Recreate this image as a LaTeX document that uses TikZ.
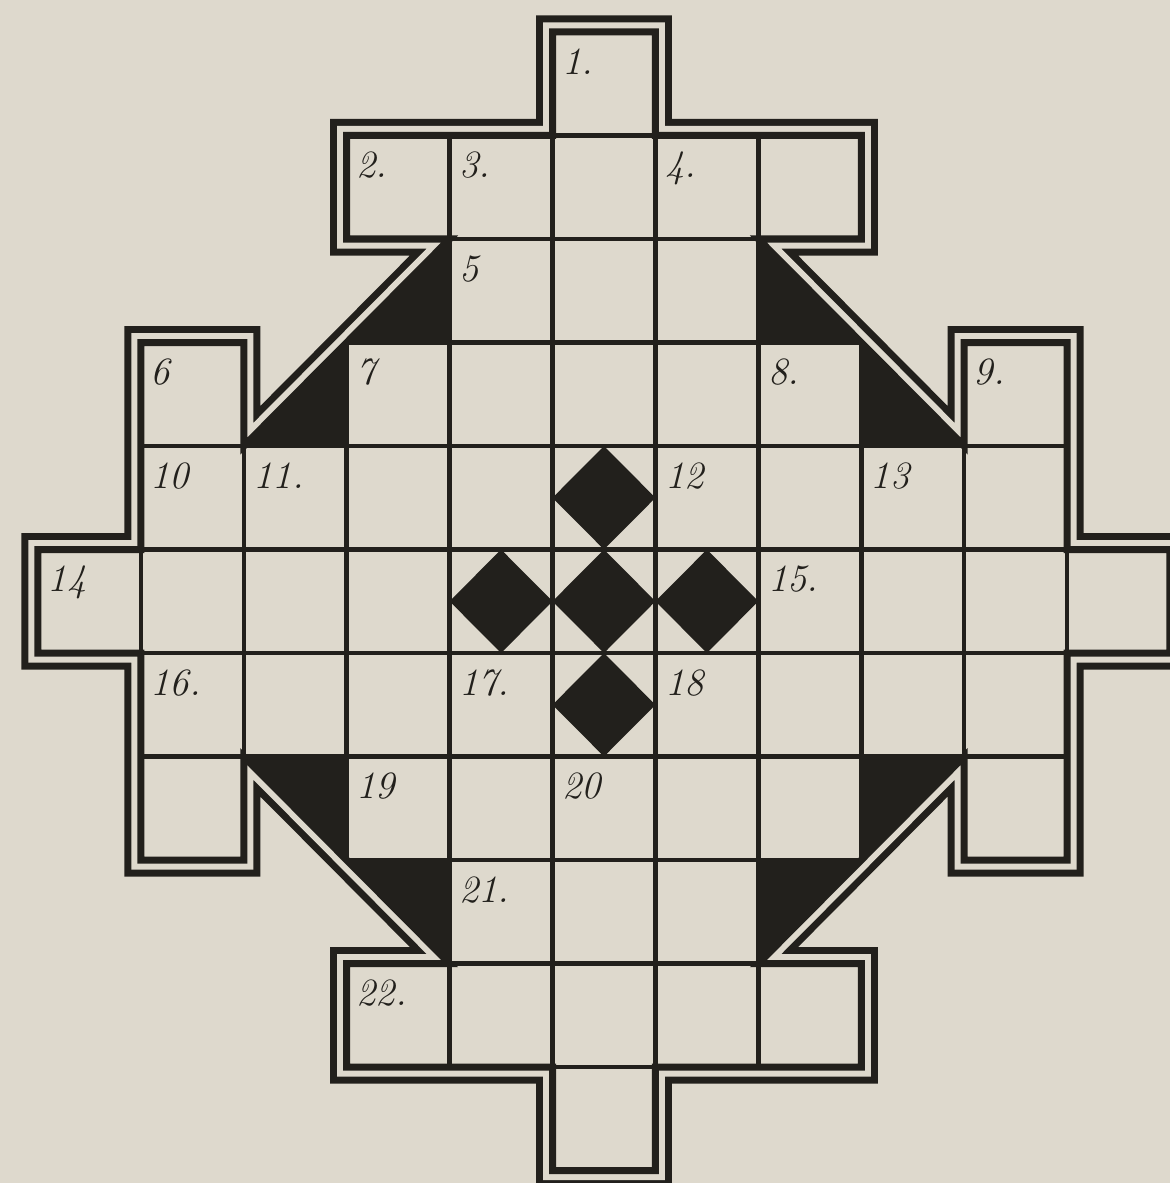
\documentclass[tikz,border=0pt]{standalone}
\usepackage{xcolor}
\usepackage{tikz}
\definecolor{paper}{RGB}{222,217,205}
\definecolor{ink}{RGB}{34,32,28}
\tikzset{
  cell/.style={draw=ink, line width=0.045cm},
  wedge/.style={fill=ink},
  jewel/.style={fill=ink},
  rimdark/.style={draw=ink, line width=0.33cm, line join=miter},
  rimgap/.style={draw=paper, line width=0.19cm, line join=miter},
  rimline/.style={draw=ink, line width=0.07cm, line join=miter},
  numlabel/.style={anchor=north west, inner sep=0pt, text=ink,
    font=\fontsize{11}{13}\selectfont\itshape, xshift=0.09cm, yshift=-0.16cm}
}
% outline of the whole grid (cell corners)
\newcommand{\rimpath}{(5,0) -- (6,0) -- (6,1) -- (8,1) -- (8,2) -- (7,2) -- (9,4) -- (9,3) -- (10,3) -- (10,5) -- (11,5) -- (11,6) -- (10,6) -- (10,8) -- (9,8) -- (9,7) -- (7,9) -- (8,9) -- (8,10) -- (6,10) -- (6,11) -- (5,11) -- (5,10) -- (3,10) -- (3,9) -- (4,9) -- (2,7) -- (2,8) -- (1,8) -- (1,6) -- (0,6) -- (0,5) -- (1,5) -- (1,3) -- (2,3) -- (2,4) -- (4,2) -- (3,2) -- (3,1) -- (5,1) -- cycle}

\begin{document}
\begin{tikzpicture}[x=1.029cm, y=-1.035cm]
  % Paper sheet, fixes the page size
  \useasboundingbox (-0.369,-0.309) rectangle (11.0,11.12);
  \fill[paper] (-0.5,-0.5) rectangle (11.5,11.5);

  % Double border: outer line from a wide stroke, gap cut out, inside cleared
  \draw[rimdark] \rimpath;
  \draw[rimgap] \rimpath;
  \fill[paper] \rimpath;

  % White cells, row by row
  \foreach \r/\a/\b in {0/5/5, 1/3/7, 2/4/6, 3/3/7, 4/1/9, 5/0/10, 6/1/9, 7/3/7, 8/4/6, 9/3/7, 10/5/5}
    \foreach \c in {\a,...,\b}
      \draw[cell] (\c,\r) rectangle ++(1,1);
  \foreach \c/\r in {1/3, 9/3, 1/7, 9/7}
    \draw[cell] (\c,\r) rectangle ++(1,1);

  % Black corner triangles
  \fill[wedge] (4,2) -- (4,3) -- (3,3) -- cycle;
  \fill[wedge] (3,3) -- (3,4) -- (2,4) -- cycle;
  \fill[wedge] (7,2) -- (7,3) -- (8,3) -- cycle;
  \fill[wedge] (8,3) -- (8,4) -- (9,4) -- cycle;
  \fill[wedge] (2,7) -- (3,7) -- (3,8) -- cycle;
  \fill[wedge] (3,8) -- (4,8) -- (4,9) -- cycle;
  \fill[wedge] (9,7) -- (8,7) -- (8,8) -- cycle;
  \fill[wedge] (8,8) -- (7,8) -- (7,9) -- cycle;

  % Central cross of diamonds
  \foreach \c/\r in {5/4, 4/5, 5/5, 6/5, 5/6}
    \fill[jewel] (\c+0.5,\r) -- (\c+1,\r+0.5) -- (\c+0.5,\r+1) -- (\c,\r+0.5) -- cycle;

  % Inner border line
  \draw[rimline] \rimpath;

  % Clue numbers
  \foreach \c/\r/\t [count=\k] in {5/0/1., 3/1/2., 4/1/3., 6/1/4., 4/2/5, 1/3/6, 3/3/7, 7/3/8., 9/3/9.,
      1/4/10, 2/4/11., 6/4/12, 8/4/13, 0/5/14, 7/5/15., 1/6/16., 4/6/17., 6/6/18,
      3/7/19, 5/7/20, 4/8/21., 3/9/22.}
    \node[numlabel] (num\k) at (\c,\r) {\t};
\end{tikzpicture}
\end{document}
